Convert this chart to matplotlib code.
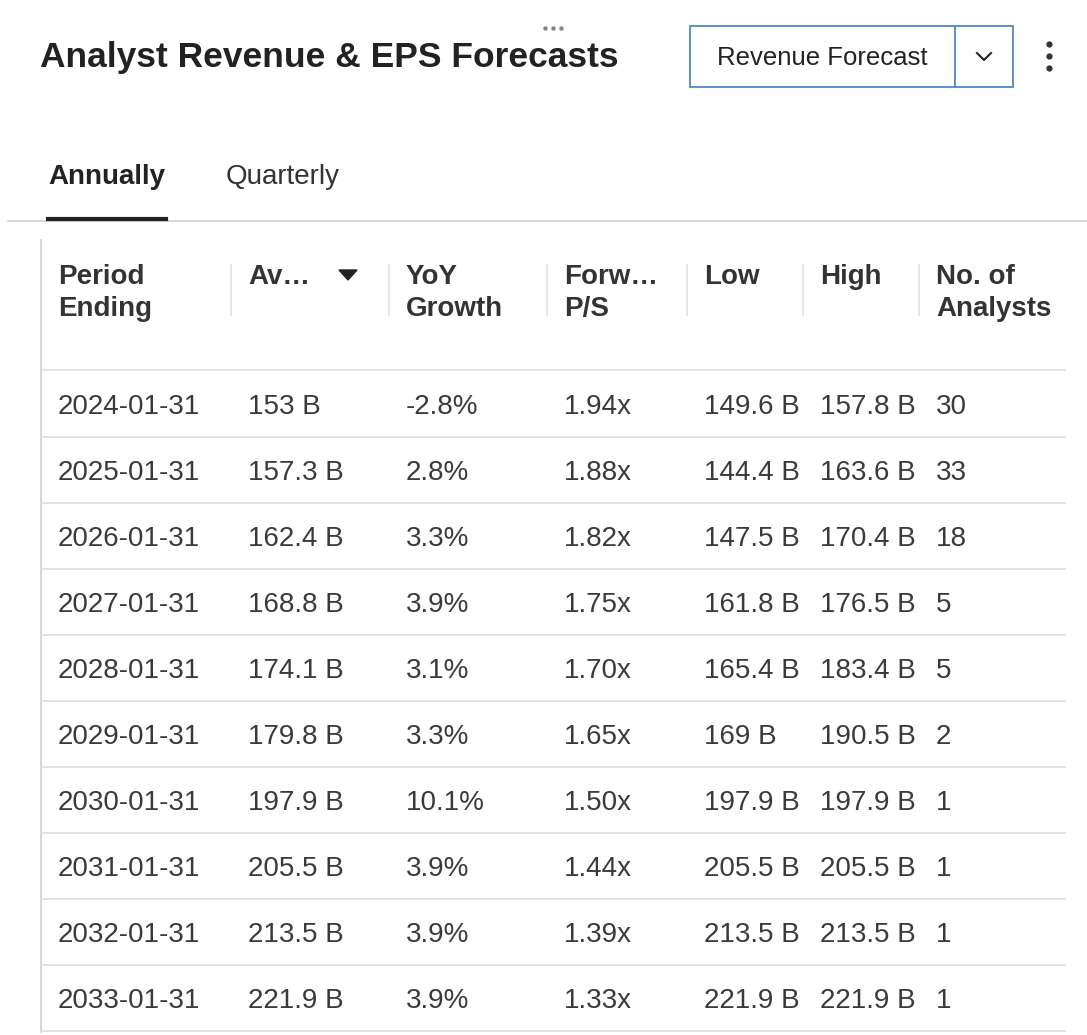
import matplotlib
matplotlib.use("Agg")
import matplotlib.pyplot as plt
from matplotlib.patches import Rectangle, Polygon

plt.rcParams["font.family"] = "Liberation Sans"

periods = ["2024-01-31","2025-01-31","2026-01-31","2027-01-31","2028-01-31",
           "2029-01-31","2030-01-31","2031-01-31","2032-01-31","2033-01-31"]
avg = ["153 B","157.3 B","162.4 B","168.8 B","174.1 B","179.8 B","197.9 B","205.5 B","213.5 B","221.9 B"]
yoy = ["-2.8%","2.8%","3.3%","3.9%","3.1%","3.3%","10.1%","3.9%","3.9%","3.9%"]
fps = ["1.94x","1.88x","1.82x","1.75x","1.70x","1.65x","1.50x","1.44x","1.39x","1.33x"]
low = ["149.6 B","144.4 B","147.5 B","161.8 B","165.4 B","169 B","197.9 B","205.5 B","213.5 B","221.9 B"]
high = ["157.8 B","163.6 B","170.4 B","176.5 B","183.4 B","190.5 B","197.9 B","205.5 B","213.5 B","221.9 B"]
analysts = ["30","33","18","5","5","2","1","1","1","1"]
headers = [("Period","Ending"),("Av…",""),("YoY","Growth"),("Forw…","P/S"),("Low",""),("High",""),("No. of","Analysts")]

W, H = 1087, 1035
fig = plt.figure(figsize=(W/100, H/100), dpi=100)
ax = fig.add_axes([0, 0, 1, 1])
ax.set_xlim(0, W); ax.set_ylim(H, 0); ax.axis("off")

dark = "#222222"
for x in (545, 553, 561):
    ax.plot(x, 28, "o", color="#888888", ms=2.2)
ax.text(40, 57, "Analyst Revenue & EPS Forecasts", fontsize=25.5, fontweight="bold", color=dark, va="center")
ax.add_patch(Rectangle((690, 26), 323, 61, fill=False, ec="#4f86c6", lw=1.3))
ax.plot([955, 955], [26, 87], color="#4f86c6", lw=1.3)
ax.text(822, 58, "Revenue Forecast", fontsize=18.5, color=dark, ha="center", va="center")
ax.plot([977, 984, 991], [53, 60, 53], color=dark, lw=1.5)
for y in (44, 56, 68):
    ax.plot(1049, y, "o", color="#333333", ms=3.5)

ax.text(48, 177, "Annually", fontsize=20, fontweight="bold", color=dark, va="center")
ax.text(226, 177, "Quarterly", fontsize=20, color="#333333", va="center")
ax.plot([8, 1087], [221, 221], color="#d0d0d0", lw=1.2)
ax.plot([48, 166], [219, 219], color=dark, lw=3)

ax.plot([41, 41], [240, 1032], color="#d8d8d8", lw=1.5)
colx = [58, 248, 406, 564, 704, 820, 936]
seps = [231, 389, 547, 687, 803, 919]
for (a, b), x in zip(headers, colx):
    ax.text(x, 277, a, fontsize=20, fontweight="bold", color="#333333", va="center")
    if b:
        ax.text(x, 309, b, fontsize=20, fontweight="bold", color="#333333", va="center")
for x in seps:
    ax.plot([x, x], [265, 315], color="#e2e2e2", lw=1.2)
ax.add_patch(Polygon([[339, 270], [357, 270], [348, 280]], color=dark))

ax.plot([41, 1065], [370, 370], color="#dddddd", lw=1.2)
cols = [periods, avg, yoy, fps, low, high, analysts]
for i in range(len(periods)):
    y = 407 + 66 * i
    for x, c in zip(colx, cols):
        ax.text(x, y, c[i], fontsize=20, color="#3a3a3a", va="center")
    ax.plot([41, 1065], [437 + 66 * i, 437 + 66 * i], color="#dddddd", lw=1.2)

fig.savefig("out.png", dpi=100, facecolor="white")
